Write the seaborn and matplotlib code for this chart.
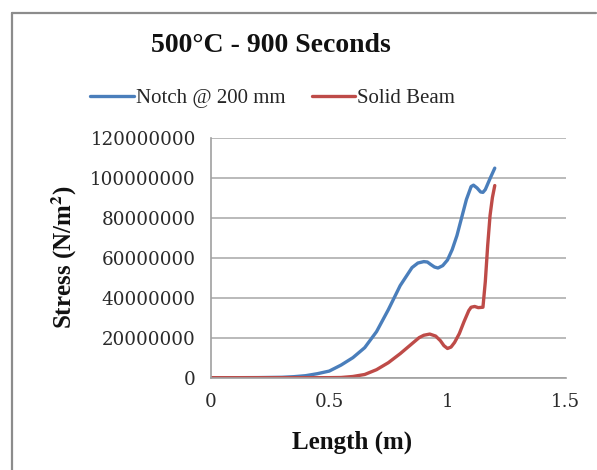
import numpy as np
import pandas as pd
import seaborn as sns
import matplotlib
matplotlib.use("Agg")
import matplotlib.pyplot as plt
from matplotlib.lines import Line2D

# ---------------- data ----------------
title = "500°C - 900 Seconds"
series_names = ["Notch @ 200 mm", "Solid Beam"]

notch_x = [0, 0.1, 0.2, 0.3, 0.35, 0.4, 0.45, 0.5, 0.55, 0.6, 0.65, 0.7, 0.75, 0.8,
           0.85, 0.875, 0.9, 0.915, 0.93, 0.945, 0.96, 0.98, 1.0, 1.02, 1.04, 1.06,
           1.08, 1.1, 1.11, 1.125, 1.14, 1.15, 1.16, 1.18, 1.2]
notch_y = [0, 0, 0.05e6, 0.2e6, 0.5e6, 1.0e6, 2.0e6, 3.3e6, 6.3e6, 10.0e6, 15.0e6,
           23.0e6, 34.0e6, 46.0e6, 55.0e6, 57.3e6, 58.0e6, 57.8e6, 56.5e6, 55.3e6,
           54.8e6, 56.0e6, 58.8e6, 64.0e6, 71.0e6, 80.0e6, 89.0e6, 95.5e6, 96.2e6,
           94.8e6, 92.8e6, 92.6e6, 94.0e6, 99.5e6, 104.7e6]

solid_x = [0, 0.1, 0.2, 0.3, 0.4, 0.5, 0.55, 0.6, 0.65, 0.7, 0.75, 0.8, 0.85, 0.88,
           0.9, 0.925, 0.95, 0.97, 0.985, 1.0, 1.015, 1.03, 1.05, 1.07, 1.09, 1.1,
           1.115, 1.13, 1.15, 1.16, 1.17, 1.18, 1.19, 1.2]
solid_y = [0, 0, 0, 0, 0, 0.02e6, 0.1e6, 0.6e6, 1.6e6, 4.0e6, 7.5e6, 12.0e6, 17.0e6,
           20.0e6, 21.2e6, 21.8e6, 20.8e6, 18.5e6, 16.0e6, 14.6e6, 15.3e6, 17.6e6,
           22.0e6, 28.0e6, 33.5e6, 35.2e6, 35.6e6, 35.0e6, 35.2e6, 48.0e6, 66.0e6,
           81.0e6, 90.0e6, 96.0e6]

x_ticks = [0, 0.5, 1, 1.5]
x_tick_labels = ["0", "0.5", "1", "1.5"]
y_ticks = [0, 20000000, 40000000, 60000000, 80000000, 100000000, 120000000]
y_tick_labels = ["0", "20000000", "40000000", "60000000", "80000000", "100000000", "120000000"]

colors = ["#4A7EBB", "#BE4B48"]

df = pd.concat([
    pd.DataFrame({"Length": notch_x, "Stress": notch_y, "Series": series_names[0]}),
    pd.DataFrame({"Length": solid_x, "Stress": solid_y, "Series": series_names[1]}),
], ignore_index=True)

# ---------------- plot ----------------
sns.set_theme(style="white")
plt.rcParams["font.family"] = ["Liberation Serif", "DejaVu Serif"]
plt.rcParams["mathtext.fontset"] = "stix"

fig = plt.figure(figsize=(5.97, 4.70), dpi=100)
ax = fig.add_axes([0.3534, 0.1964, 0.5942, 0.5110])

sns.lineplot(data=df, x="Length", y="Stress", hue="Series", palette=colors,
             linewidth=2.4, ax=ax, legend=False, sort=False)

ax.set_xlim(0, 1.5)
ax.set_ylim(0, 120000000)
ax.set_xticks(x_ticks)
ax.set_xticklabels(x_tick_labels)
ax.set_yticks(y_ticks)
ax.set_yticklabels(y_tick_labels)
for lab in ax.get_xticklabels() + ax.get_yticklabels():
    lab.set_fontfamily(["DejaVu Serif"])
    lab.set_fontsize(13.2)
    lab.set_color("#2a2a2a")

ax.yaxis.grid(True, color="#B4B4B4", linewidth=1.3)
ax.xaxis.grid(False)
for s in ["top", "right"]:
    ax.spines[s].set_visible(False)
for s in ["left", "bottom"]:
    ax.spines[s].set_color("#A0A0A0")
    ax.spines[s].set_linewidth(1.2)

ax.tick_params(axis="both", which="major", direction="out", length=5, width=1.2,
               color="#A0A0A0", pad=6)

ax.set_xlabel("Length (m)", fontsize=18, fontweight="bold", color="#111111")
ax.set_ylabel("Stress (N/m$^\\mathbf{2}$)", fontsize=18, fontweight="bold", color="#111111")
ax.xaxis.set_label_coords(0.398, -0.222)
ax.yaxis.set_label_coords(-0.372, 0.5)

fig.text(0.454, 0.904, title, ha="center", va="center", fontsize=20,
         fontweight="bold", color="#111111")

handles = [Line2D([0], [0], color=c, lw=2.4) for c in colors]
fig.legend(handles, series_names, loc="center", bbox_to_anchor=(0.457, 0.79),
           ncol=2, frameon=False, fontsize=15, handlelength=2.07, handletextpad=0.1,
           columnspacing=1.3)

# outer chart frame (left and top edges visible)
fig.add_artist(Line2D([0.020, 0.020], [0.972, 0.0], transform=fig.transFigure,
                      color="#8C8C8C", lw=1.6))
fig.add_artist(Line2D([0.020, 0.999], [0.972, 0.972], transform=fig.transFigure,
                      color="#8C8C8C", lw=1.6))

fig.savefig("out.png", dpi=100)
